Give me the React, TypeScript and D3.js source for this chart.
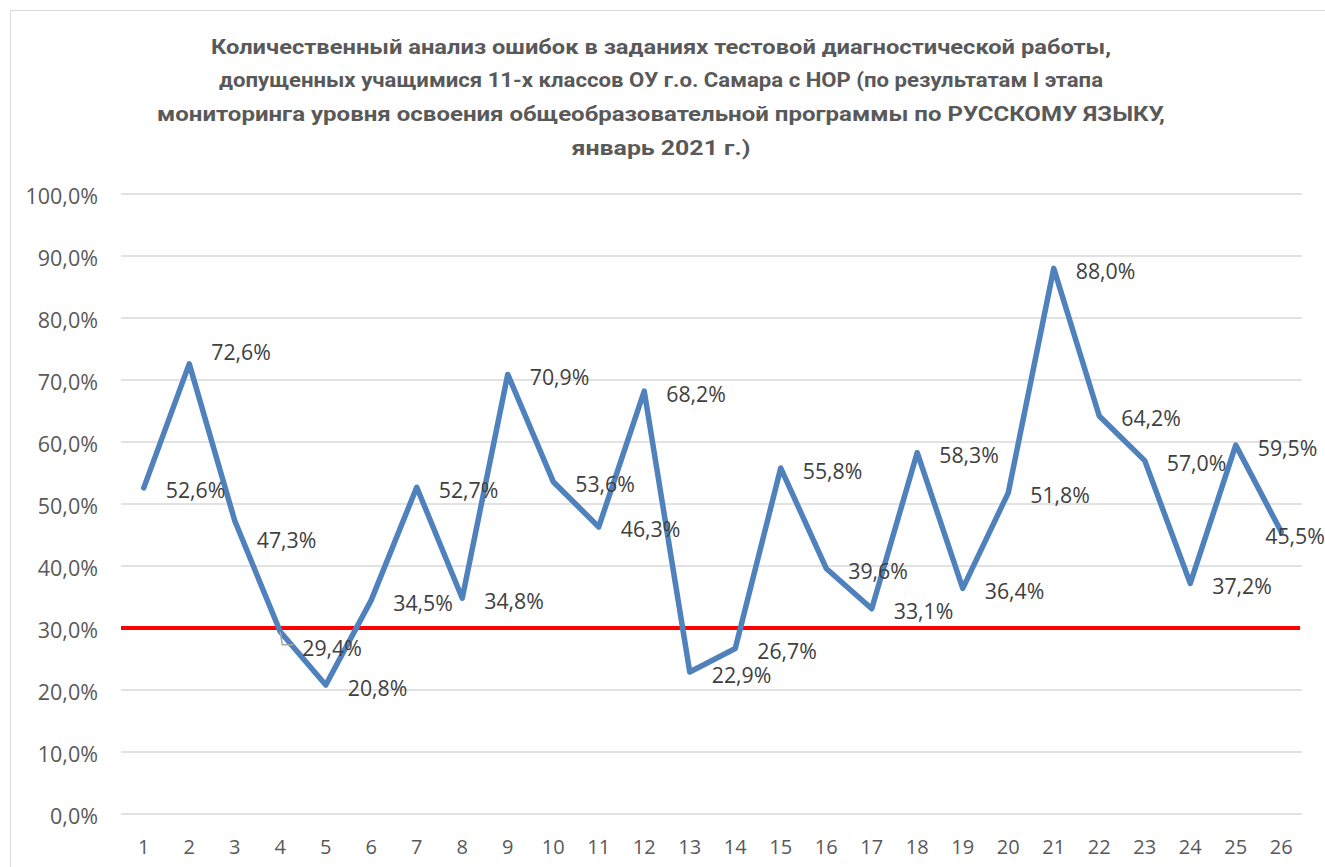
import React from "react";
import * as d3 from "d3";

const titleLines = [
  "Количественный анализ ошибок в заданиях тестовой диагностической работы,",
  "допущенных учащимися 11-х классов ОУ г.о. Самара с НОР (по результатам I этапа",
  "мониторинга уровня освоения общеобразовательной программы по РУССКОМУ ЯЗЫКУ,",
  "январь 2021 г.)",
];
const titleWidths = [900, 884, 1008, 179];

const categories = [
  "1", "2", "3", "4", "5", "6", "7", "8", "9", "10", "11", "12", "13",
  "14", "15", "16", "17", "18", "19", "20", "21", "22", "23", "24", "25", "26",
];
const values = [
  52.6, 72.6, 47.3, 29.4, 20.8, 34.5, 52.7, 34.8, 70.9, 53.6, 46.3, 68.2, 22.9,
  26.7, 55.8, 39.6, 33.1, 58.3, 36.4, 51.8, 88.0, 64.2, 57.0, 37.2, 59.5, 45.5,
];
const threshold = 30;
const yTicks = [0, 10, 20, 30, 40, 50, 60, 70, 80, 90, 100];

const fmt = (v: number) => v.toFixed(1).replace(".", ",") + "%";

export default function App() {
  const W = 1325;
  const H = 867;
  const left = 121;
  const right = 1304;
  const top = 194;
  const bottom = 814;

  const x = d3.scaleBand<string>().domain(categories).range([left, right]).padding(0);
  const cx = (c: string) => (x(c) as number) + x.bandwidth() / 2;
  const y = d3.scaleLinear().domain([0, 100]).range([bottom, top]);

  const line = d3
    .line<number>()
    .x((_, i) => cx(categories[i]))
    .y((d) => y(d));

  const font = "'Open Sans', sans-serif";

  // label nudges (manual placements in original)
  const nudge: Record<number, [number, number]> = {
    1: [0, -14],
    2: [0, 17],
    3: [0, 14],
    25: [-38, 2],
  };

  return (
    <svg
      width={W}
      height={H}
      style={{ position: "absolute", left: 0, top: 0, background: "#fff" }}
    >
      <rect x={0} y={0} width={W} height={H} fill="#fff" />
      <rect x={10.5} y={10.5} width={1330} height={900} fill="none" stroke="#D9D9D9" strokeWidth={1} />

      {titleLines.map((t, i) => (
        <text
          key={i}
          x={661}
          y={47 + i * 33.7}
          textAnchor="middle"
          dominantBaseline="central"
          fontFamily="'Liberation Sans Narrow', 'Roboto', sans-serif"
          fontWeight="bold"
          fontSize={19.5}
          fill="#595959"
          textLength={titleWidths[i]}
          lengthAdjust="spacingAndGlyphs"
        >
          {t}
        </text>
      ))}

      {yTicks.map((t) => (
        <g key={t}>
          <line x1={left} x2={1302} y1={y(t)} y2={y(t)} stroke="#D9D9D9" strokeWidth={1.5} />
          <text
            x={98}
            y={y(t) + 1}
            textAnchor="end"
            dominantBaseline="central"
            fontFamily={font}
            fontSize={21.5}
            fill="#595959"
          >
            {fmt(t)}
          </text>
        </g>
      ))}

      {categories.map((c) => (
        <text
          key={c}
          x={cx(c)}
          y={846}
          textAnchor="middle"
          dominantBaseline="central"
          fontFamily={font}
          fontSize={20}
          fill="#595959"
        >
          {c}
        </text>
      ))}

      <line
        x1={left}
        x2={1300}
        y1={y(threshold)}
        y2={y(threshold)}
        stroke="#FF0000"
        strokeWidth={4}
      />

      <path
        d={line(values) || ""}
        fill="none"
        stroke="#4F81BD"
        strokeWidth={5.5}
        strokeLinejoin="round"
        strokeLinecap="round"
      />

      {/* leader line for label 4 */}
      <polyline
        points={`${cx(categories[3])},${y(values[3])} ${cx(categories[3]) + 2},${y(values[3]) + 13} ${cx(categories[3]) + 13},${y(values[3]) + 13}`}
        fill="none"
        stroke="#A6A6A6"
        strokeWidth={1.5}
      />

      {values.map((v, i) => {
        const [dx, dy] = nudge[i] || [0, 0];
        return (
          <text
            key={i}
            x={cx(categories[i]) + 22 + dx}
            y={y(v) + 2 + dy}
            dominantBaseline="central"
            fontFamily={font}
            fontSize={21.3}
            fill="#404040"
          >
            {fmt(v)}
          </text>
        );
      })}
    </svg>
  );
}
